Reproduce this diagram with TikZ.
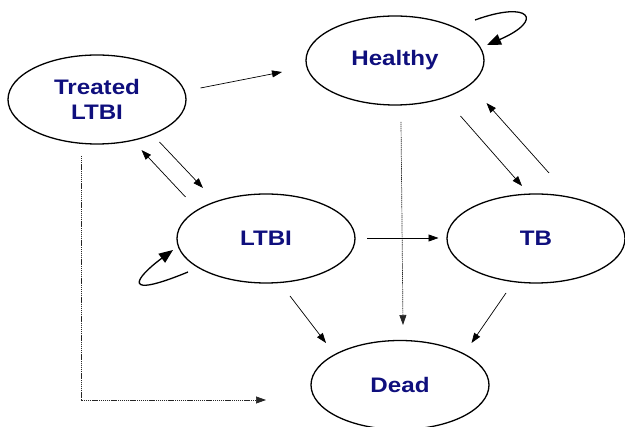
\documentclass[tikz,border=0pt]{standalone}
\usepackage{fontspec}
\newfontfamily\lbl[FakeStretch=1.15]{Liberation Sans}
\usetikzlibrary{shapes.geometric,arrows.meta}
\definecolor{navy}{RGB}{15,15,125}
\begin{document}
\begin{tikzpicture}[x=1pt,y=-1pt,
  state/.style={ellipse,draw,line width=1.3pt,minimum width=178pt,minimum height=89pt,inner sep=0pt,
    font=\lbl\bfseries\fontsize{21}{25}\selectfont,text=navy,align=center},
  tr/.style={-{Triangle[length=10pt,width=7pt]},line width=0.7pt},
  dotline/.style={tr,draw=black!85,dash pattern=on 1.2pt off 0.7pt},
  loopline/.style={line width=1.3pt,-{Triangle[length=14pt,width=11pt]}}]
\useasboundingbox (0,0) rectangle (625,427);
\node[state] (tl) at (97,99.5) {Treated\\LTBI};
\node[state] (h) at (395,60.5) {Healthy};
\node[state] (l) at (266,238.5) {LTBI};
\node[state] (tb) at (536,238.5) {TB};
\node[state] (d) at (400,385) {Dead};
% arrow end points
\coordinate (tlh1) at (200.5,88);   \coordinate (tlh2) at (282,72);
\coordinate (tll1) at (159.5,142);  \coordinate (tll2) at (203,188);
\coordinate (ltl1) at (185.5,197);  \coordinate (ltl2) at (141.5,150);
\coordinate (htb1) at (460.5,116);  \coordinate (htb2) at (522,186);
\coordinate (tbh1) at (549,173);    \coordinate (tbh2) at (486.5,103);
\coordinate (hd1) at (401,122);     \coordinate (hd2) at (403,325);
\coordinate (ltb1) at (367,238);    \coordinate (ltb2) at (438.5,238);
\coordinate (ld1) at (290,296);     \coordinate (ld2) at (326,343);
\coordinate (tbd1) at (506,293);    \coordinate (tbd2) at (471.5,343);
\coordinate (tld1) at (81,156);     \coordinate (tld2) at (266,400);
\coordinate (hl1) at (475,20);      \coordinate (hl2) at (487,45);
\coordinate (ll1) at (188,272);     \coordinate (ll2) at (173,250);
\draw[tr] (tlh1) -- (tlh2);
\draw[tr] (tll1) -- (tll2);
\draw[tr] (ltl1) -- (ltl2);
\draw[tr] (htb1) -- (htb2);
\draw[tr] (tbh1) -- (tbh2);
\draw[dotline] (hd1) -- (hd2);
\draw[tr] (ltb1) -- (ltb2);
\draw[tr] (ld1) -- (ld2);
\draw[tr] (tbd1) -- (tbd2);
\draw[dotline] (tld1) |- (tld2);
\draw[loopline] (hl1) .. controls (530,0) and (545,20) .. (hl2);
\draw[loopline] (ll1) .. controls (120,300) and (135,278) .. (ll2);
\end{tikzpicture}
\end{document}
